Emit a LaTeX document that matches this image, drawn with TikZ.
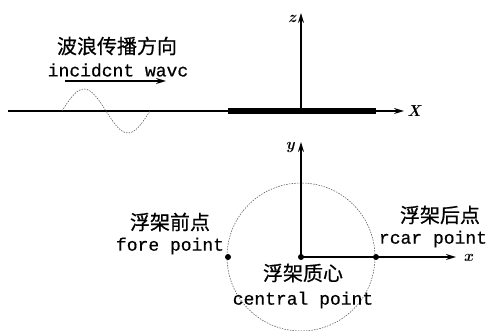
\documentclass[tikz,border=0pt]{standalone}
\usepackage{fontspec}
\setmonofont[FakeBold=0.5]{Liberation Mono}
\newfontfamily\cjk[FakeBold=0.6]{Noto Sans CJK SC}
\usetikzlibrary{arrows.meta}
\begin{document}
\begin{tikzpicture}[x=1pt,y=-1pt,
  axis/.style={line width=1.5pt,-{Stealth[length=10pt,width=6pt]}},
  cn/.style={inner sep=0pt,font=\cjk\fontsize{20}{20}\selectfont},
  en/.style={inner sep=0pt,font=\ttfamily\fontsize{18}{18}\selectfont},
  axlabel/.style={inner sep=0pt,font=\bfseries\itshape\fontsize{16}{16}\selectfont},
  pt/.style={circle,fill=black,inner sep=0pt,minimum size=6pt},
  origin/.style={inner sep=0pt,minimum size=0pt},
  wavestyle/.style={line width=0.5pt,dash pattern=on 1.5pt off 1.2pt,black!70},
  circstyle/.style={line width=0.5pt,dash pattern=on 1.5pt off 1.2pt,black!70}]
\useasboundingbox (0,0) rectangle (491,331);
% ---------- top view ----------
\coordinate (lstart) at (8,111);
\coordinate (xtip) at (404,111);
\coordinate (barL) at (228,111);
\coordinate (barR) at (376,111);
\node[origin] (o1) at (301,111) {};
\coordinate (ztip) at (301,13);
\draw[axis] (lstart) -- (xtip);
\draw[line width=6pt] (barL) -- (barR);
\draw[axis] (o1.center) -- (ztip);
\node[axlabel] (xlab1) at (414,111) {X};
\node[axlabel] (zlab) at (292,19) {z};
% wave
\coordinate (w0) at (62,111);
\draw[wavestyle] (w0) sin ++(22,-22) cos ++(22,22) sin ++(22,22) cos ++(22,-22);
% direction arrow
\coordinate (a0) at (65,81);
\coordinate (a1) at (166,81);
\draw[axis] (a0) -- (a1);
\node[cn] (t1) at (117,46) {波浪传播方向};
\node[en] (t2) at (118,70) {incidcnt wavc};
% ---------- plan view ----------
\node[pt] (o2) at (301,257) {};
\coordinate (ytip) at (301,142);
\coordinate (xtip2) at (456,257);
\draw[circstyle] (o2.center) circle[radius=74pt];
\draw[axis] (o2.center) -- (ytip);
\draw[axis] (o2.center) -- (xtip2);
\node[pt] (fore) at (228,257) {};
\node[pt] (rear) at (376,257) {};
\node[axlabel] (ylab) at (290,148) {y};
\node[axlabel] (xlab2) at (468,258) {x};
\node[cn] (f1) at (170,222) {浮架前点};
\node[en] (f2) at (170,246) {fore point};
\node[cn] (r1) at (440,215) {浮架后点};
\node[en] (r2) at (433,239) {rcar point};
\node[cn] (c1) at (303,273) {浮架质心};
\node[en] (c2) at (303,300) {central point};
\end{tikzpicture}
\end{document}
